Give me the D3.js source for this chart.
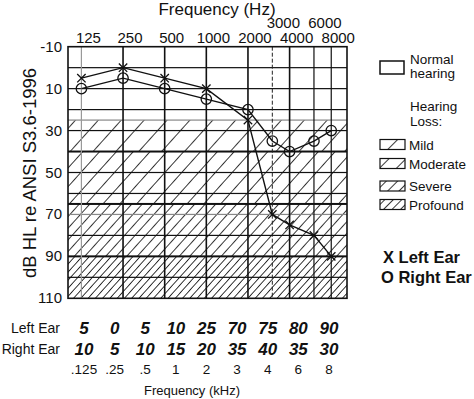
<!DOCTYPE html>
<html>
<head>
<meta charset="utf-8">
<script src="https://cdn.jsdelivr.net/npm/d3@7"></script>
<style>
  html, body { margin: 0; padding: 0; background: #fff; }
  svg { display: block; font-family: "Liberation Sans", Arial, sans-serif; }
</style>
</head>
<body>
<svg id="chart" width="474" height="399"></svg>
<script>
// ---- data ----
const freqs = [125, 250, 500, 1000, 2000, 3000, 4000, 6000, 8000];
const leftEar = [5, 0, 5, 10, 25, 70, 75, 80, 90];
const rightEar = [10, 5, 10, 15, 20, 35, 40, 35, 30];
const khzLabels = [".125", ".25", ".5", "1", "2", "3", "4", "6", "8"];
const topTicksLow = [125, 250, 500, 1000, 2000, 4000, 8000];
const topTicksHigh = [3000, 6000];
const yTicks = [-10, 10, 30, 50, 70, 90, 110];
const gridDb = [0, 10, 20, 25, 30, 40, 50, 60, 65, 70, 80, 90, 100];
const bandNames = ["Mild", "Moderate", "Severe", "Profound"];
const bandFrom = [25, 40, 65, 90];
const bandTo = [40, 65, 90, 110];

// ---- scales ----
const svg = d3.select("#chart");
const x = d3.scaleLog().domain([100, 10400]).range([68, 347]);
const y = d3.scaleLinear().domain([-10, 110]).range([46.7, 298.3]);
const col = d3.scalePoint().domain(freqs).range([84, 329]);

const defs = svg.append("defs");
const hatchSpacing = [17, 12.5, 7.8, 5.4];
function makePattern(id, sp) {
  const p = defs.append("pattern").attr("id", id)
    .attr("patternUnits", "userSpaceOnUse")
    .attr("width", sp).attr("height", 20)
    .attr("patternTransform", "rotate(42)");
  p.append("rect").attr("x", 0).attr("y", 0).attr("width", 0.9).attr("height", 20)
    .attr("fill", "#222");
}
bandNames.forEach((n, i) => makePattern("hatch" + i, hatchSpacing[i]));

const x0 = x.range()[0], x1 = x.range()[1];
const yTop = y(-10), yBot = y(110);

// bands
svg.append("g").selectAll("rect").data(bandNames).join("rect")
  .attr("x", x0).attr("width", x1 - x0)
  .attr("y", (d, i) => y(bandFrom[i]))
  .attr("height", (d, i) => y(bandTo[i]) - y(bandFrom[i]))
  .attr("fill", (d, i) => `url(#hatch${i})`);

// horizontal grid (thin rects)
const hColor = v => [25, 70].includes(v) ? "#888" : "#111";
const hWidth = v => [40, 65, 90].includes(v) ? 2 : 1.2;
svg.append("g").attr("class", "hgrid").selectAll("rect").data(gridDb).join("rect")
  .attr("x", x0).attr("width", x1 - x0)
  .attr("y", d => y(d) - hWidth(d) / 2).attr("height", hWidth)
  .attr("fill", hColor);

// vertical grid (thin rects; 3000 Hz dashed)
const vColor = f => f === 125 ? "#999" : "#111";
const vWidth = f => f === 3000 ? 1 : ([6000, 8000, 125].includes(f) ? 1.2 : 1.6);
const vg = svg.append("g").attr("class", "vgrid");
vg.selectAll("rect.solid").data(freqs.filter(f => f !== 3000)).join("rect")
  .attr("class", "solid")
  .attr("x", d => x(d) - vWidth(d) / 2).attr("width", vWidth)
  .attr("y", yTop).attr("height", yBot - yTop)
  .attr("fill", vColor);
vg.selectAll("path.dash").data(freqs.filter(f => f === 3000)).join("path")
  .attr("class", "dash")
  .attr("d", d => `M${x(d)},${yTop}V${yBot}`)
  .attr("fill", "none").attr("stroke", "#222").attr("stroke-width", 1)
  .attr("stroke-dasharray", "4,2");

// border
svg.append("rect").attr("x", x0).attr("y", yTop)
  .attr("width", x1 - x0).attr("height", yBot - yTop)
  .attr("fill", "none").attr("stroke", "#111").attr("stroke-width", 1.6);

// data lines
const line = d3.line().x(d => x(d[0])).y(d => y(d[1]));
const leftPts = freqs.map((f, i) => [f, leftEar[i]]);
const rightPts = freqs.map((f, i) => [f, rightEar[i]]);
svg.append("path").attr("d", line(leftPts)).attr("fill", "none")
  .attr("stroke", "#111").attr("stroke-width", 1.4);
svg.append("path").attr("d", line(rightPts)).attr("fill", "none")
  .attr("stroke", "#111").attr("stroke-width", 1.4);

// markers
const s = 4.2;
svg.append("g").selectAll("path").data(leftPts).join("path")
  .attr("d", d => {
    const cx = x(d[0]), cy = y(d[1]);
    return `M${cx - s},${cy - s}L${cx + s},${cy + s}M${cx - s},${cy + s}L${cx + s},${cy - s}`;
  })
  .attr("stroke", "#111").attr("stroke-width", 1.3).attr("fill", "none");
svg.append("g").selectAll("circle").data(rightPts).join("circle")
  .attr("cx", d => x(d[0])).attr("cy", d => y(d[1])).attr("r", 5.2)
  .attr("fill", "none").attr("stroke", "#111").attr("stroke-width", 1.3);

// titles and tick labels
svg.append("text").attr("x", 217).attr("y", 15).attr("text-anchor", "middle")
  .attr("font-size", 17).attr("fill", "#111").text("Frequency (Hz)");
svg.append("g").selectAll("text").data(topTicksLow).join("text")
  .attr("x", d => x(d) + 7).attr("y", 43).attr("text-anchor", "middle")
  .attr("font-size", 15).attr("fill", "#111").text(d => d);
svg.append("g").selectAll("text").data(topTicksHigh).join("text")
  .attr("x", d => x(d) + 11).attr("y", 28).attr("text-anchor", "middle")
  .attr("font-size", 15).attr("fill", "#111").text(d => d);
svg.append("g").selectAll("text").data(yTicks).join("text")
  .attr("x", 62).attr("y", d => y(d) + 5).attr("text-anchor", "end")
  .attr("font-size", 15).attr("fill", "#111").text(d => d);
svg.append("text").attr("transform", "translate(36,173) rotate(-90)")
  .attr("text-anchor", "middle").attr("font-size", 18.5).attr("fill", "#111")
  .text("dB HL re ANSI S3.6-1996");

// table below
svg.append("text").attr("x", 60).attr("y", 333).attr("text-anchor", "end")
  .attr("font-size", 14).attr("fill", "#111").text("Left Ear");
svg.append("text").attr("x", 60).attr("y", 354).attr("text-anchor", "end")
  .attr("font-size", 14).attr("fill", "#111").text("Right Ear");
const hand = g => g.attr("text-anchor", "middle").attr("font-size", 17)
  .attr("font-style", "italic").attr("font-weight", "bold").attr("fill", "#111");
svg.append("g").selectAll("text").data(leftPts).join("text")
  .attr("x", d => col(d[0])).attr("y", 334).text(d => d[1]).call(hand);
svg.append("g").selectAll("text").data(rightPts).join("text")
  .attr("x", d => col(d[0])).attr("y", 355).text(d => d[1]).call(hand);
svg.append("g").selectAll("text").data(freqs).join("text")
  .attr("x", d => col(d)).attr("y", 374).attr("text-anchor", "middle")
  .attr("font-size", 13.5).attr("fill", "#111").text((d, i) => khzLabels[i]);
svg.append("text").attr("x", 192).attr("y", 395).attr("text-anchor", "middle")
  .attr("font-size", 13).attr("fill", "#111").text("Frequency (kHz)");

// legend
const lg = svg.append("g").attr("font-size", 13.5).attr("fill", "#111");
lg.append("rect").attr("x", 380).attr("y", 61).attr("width", 24).attr("height", 13)
  .attr("fill", "none").attr("stroke", "#111").attr("stroke-width", 1.5);
lg.append("text").attr("x", 410).attr("y", 64).text("Normal");
lg.append("text").attr("x", 410).attr("y", 78).text("hearing");
lg.append("text").attr("x", 410).attr("y", 111).text("Hearing");
lg.append("text").attr("x", 410).attr("y", 126).text("Loss:");
const legY = [139.5, 158.5, 181, 199.5];
bandNames.forEach((n, i) => {
  const pid = "lh" + i;
  const w = 24 / (i + 1);
  const p = defs.append("pattern").attr("id", pid)
    .attr("patternUnits", "userSpaceOnUse")
    .attr("x", 380).attr("y", legY[i])
    .attr("width", w).attr("height", 30)
    .attr("patternTransform", "rotate(45 392 " + (legY[i] + 5) + ")");
  p.append("rect").attr("x", w / 2).attr("y", 0).attr("width", 0.9).attr("height", 30)
    .attr("fill", "#222");
  lg.append("rect").attr("x", 380).attr("y", legY[i]).attr("width", 25).attr("height", 10)
    .attr("fill", `url(#${pid})`).attr("stroke", "#111").attr("stroke-width", 1.2);
  lg.append("text").attr("x", 409).attr("y", legY[i] + 10).text(n);
});
const lb = svg.append("g").attr("font-size", 16.5).attr("font-weight", "bold").attr("fill", "#111");
lb.append("text").attr("x", 383).attr("y", 263).text("X  Left Ear");
lb.append("text").attr("x", 381).attr("y", 283).text("O Right Ear");
</script>
</body>
</html>
